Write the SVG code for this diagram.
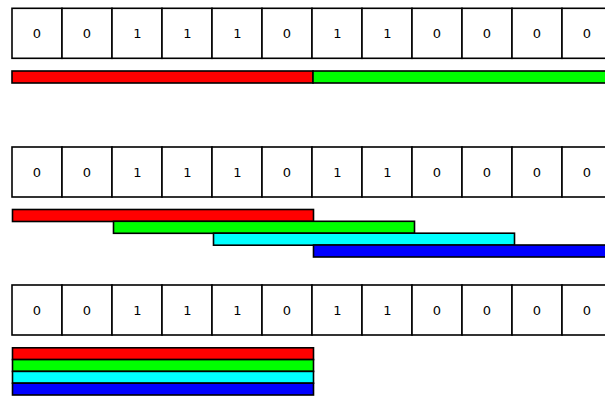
<svg xmlns="http://www.w3.org/2000/svg" width="605" height="397" viewBox="0 0 605 397">
<style>
.cell{fill:#fff;stroke:#000;stroke-width:1.6}
.t{font-family:"DejaVu Sans",sans-serif;font-size:13px;text-anchor:middle;fill:#000}
.bar{stroke:#000;stroke-width:1.6}
.r{fill:#ff0000}.g{fill:#00ff00}.c{fill:#00ffff}.b{fill:#0000ff}
</style>
<defs>
<g id="row">
<rect class="cell" x="12" y="0" width="50" height="50"/>
<rect class="cell" x="62" y="0" width="50" height="50"/>
<rect class="cell" x="112" y="0" width="50" height="50"/>
<rect class="cell" x="162" y="0" width="50" height="50"/>
<rect class="cell" x="212" y="0" width="50" height="50"/>
<rect class="cell" x="262" y="0" width="50" height="50"/>
<rect class="cell" x="312" y="0" width="50" height="50"/>
<rect class="cell" x="362" y="0" width="50" height="50"/>
<rect class="cell" x="412" y="0" width="50" height="50"/>
<rect class="cell" x="462" y="0" width="50" height="50"/>
<rect class="cell" x="512" y="0" width="50" height="50"/>
<rect class="cell" x="562" y="0" width="50" height="50"/>
<text class="t" x="37" y="29.5">0</text>
<text class="t" x="87" y="29.5">0</text>
<text class="t" x="137.5" y="29.5">1</text>
<text class="t" x="187.5" y="29.5">1</text>
<text class="t" x="237.5" y="29.5">1</text>
<text class="t" x="287" y="29.5">0</text>
<text class="t" x="337.5" y="29.5">1</text>
<text class="t" x="387.5" y="29.5">1</text>
<text class="t" x="437" y="29.5">0</text>
<text class="t" x="487" y="29.5">0</text>
<text class="t" x="537" y="29.5">0</text>
<text class="t" x="587" y="29.5">0</text>
</g>
</defs>
<g id="row1">
<use href="#row" y="8.3"/>
<rect class="bar r" x="12" y="71" width="301" height="12"/>
<rect class="bar g" x="313" y="71" width="301" height="12"/>
</g>
<g id="row2">
<use href="#row" y="147"/>
<rect class="bar r" x="12.5" y="209.5" width="301" height="12"/>
<rect class="bar g" x="113.5" y="221.3" width="301" height="12"/>
<rect class="bar c" x="213.5" y="233.2" width="301" height="12"/>
<rect class="bar b" x="313.5" y="245" width="301" height="12"/>
</g>
<g id="row3">
<use href="#row" y="285"/>
<rect class="bar r" x="12.5" y="347.8" width="301" height="11.8"/>
<rect class="bar g" x="12.5" y="359.6" width="301" height="11.8"/>
<rect class="bar c" x="12.5" y="371.4" width="301" height="11.8"/>
<rect class="bar b" x="12.5" y="383.2" width="301" height="11.8"/>
</g>
</svg>
